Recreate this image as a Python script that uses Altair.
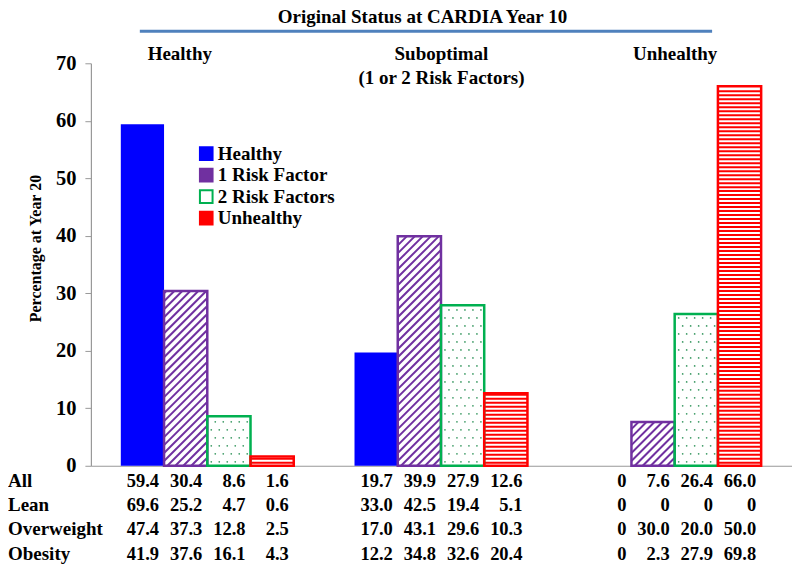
import altair as alt
import pandas as pd
import numpy as np

# ---------------- data ----------------
groups = ["Healthy", "Suboptimal", "Unhealthy"]
group_titles = ["Healthy", "Suboptimal\n(1 or 2 Risk Factors)", "Unhealthy"]
series = ["Healthy", "1 Risk Factor", "2 Risk Factors", "Unhealthy"]
row_names = ["All", "Lean", "Overweight", "Obesity"]

all_vals = [59.4, 30.4, 8.6, 1.6, 19.7, 39.9, 27.9, 12.6, 0, 7.6, 26.4, 66.0]
lean_vals = [69.6, 25.2, 4.7, 0.6, 33.0, 42.5, 19.4, 5.1, 0, 0, 0, 0]
overweight_vals = [47.4, 37.3, 12.8, 2.5, 17.0, 43.1, 29.6, 10.3, 0, 30.0, 20.0, 50.0]
obesity_vals = [41.9, 37.6, 16.1, 4.3, 12.2, 34.8, 32.6, 20.4, 0, 2.3, 27.9, 69.8]
table_rows = [all_vals, lean_vals, overweight_vals, obesity_vals]
y_ticks = [0, 10, 20, 30, 40, 50, 60, 70]

# ---------------- style / layout ----------------
W, H = 702, 403
PX = W / 3.0
PY = H / 70.0
GROUP_OFF = 0.128
BAR_W = 0.185
FONT = "Liberation Serif"
BLUE, PURPLE, GREEN, RED = "#0000ff", "#7030a0", "#00b050", "#ff0000"
fills = [BLUE, "#ffffff", "#ffffff", "#ffffff"]
strokes = [BLUE, PURPLE, GREEN, RED]
legend_fills = [BLUE, PURPLE, "#ffffff", RED]

xscale = alt.Scale(domain=[0, 3], nice=False, zero=False)
yscale = alt.Scale(domain=[0, 70], nice=False)
xaxis = alt.Axis(labels=False, ticks=False, title=None, grid=False,
                 domainColor="#999999", domainWidth=1.2)
yaxis = alt.Axis(values=y_ticks, grid=False, title="Percentage at Year 20",
                 labelFont=FONT, labelFontWeight="bold", labelFontSize=20.5,
                 labelColor="black", tickColor="#999999", tickSize=6,
                 labelPadding=9, domainColor="#999999", domainWidth=1.2,
                 titleFont=FONT, titleFontWeight="bold", titleFontSize=16,
                 titleColor="black", titleX=-47, titleY=185)


def X(f="x"):
    return alt.X(f + ":Q", scale=xscale, axis=xaxis)


def Y(f="y"):
    return alt.Y(f + ":Q", scale=yscale, axis=yaxis)


# bar table
bar_rows = []
for gi, g in enumerate(groups):
    for si, s in enumerate(series):
        x0 = gi + GROUP_OFF + si * BAR_W
        bar_rows.append(dict(group=g, series=s, si=si, x=x0, x2=x0 + BAR_W,
                             y=0.0, y2=all_vals[gi * 4 + si]))
bars = pd.DataFrame(bar_rows)

layers = []
# fills
for si, s in enumerate(series):
    d = bars[(bars.si == si) & (bars.y2 > 0)]
    layers.append(alt.Chart(d).mark_rect(fill=fills[si], strokeWidth=0)
                  .encode(x=X(), x2="x2:Q", y=Y(), y2="y2:Q"))

# patterns
hatch, dots, stripes = [], [], []
for _, b in bars.iterrows():
    wpx = (b.x2 - b.x) * PX
    hpx = b.y2 * PY
    if hpx <= 0:
        continue
    if b.si == 1:  # diagonal hatch
        for c in np.arange(-wpx, hpx, 8.0):
            xa, xb = max(0.0, -c), min(wpx, hpx - c)
            if xb > xa:
                hatch.append(dict(x=b.x + xa / PX, y=(xa + c) / PY,
                                  x2=b.x + xb / PX, y2=(xb + c) / PY))
    elif b.si == 2:  # dots
        for ri, ypx in enumerate(np.arange(4.0, hpx - 2, 8.0)):
            start = 4.0 if ri % 2 == 0 else 8.0
            for xpx in np.arange(start, wpx - 2, 8.0):
                dots.append(dict(x=b.x + xpx / PX, y=ypx / PY))
    elif b.si == 3:  # horizontal stripes
        for ypx in np.arange(3.0, hpx - 1, 4.0):
            stripes.append(dict(x=b.x, x2=b.x2, y=ypx / PY))

layers.append(alt.Chart(pd.DataFrame(hatch)).mark_rule(color=PURPLE, strokeWidth=2)
              .encode(x=X(), y=Y(), x2="x2:Q", y2="y2:Q"))
layers.append(alt.Chart(pd.DataFrame(dots)).mark_circle(color="#3c9a64", size=3, opacity=1)
              .encode(x=X(), y=Y()))
layers.append(alt.Chart(pd.DataFrame(stripes)).mark_rule(color=RED, strokeWidth=2)
              .encode(x=X(), x2="x2:Q", y=Y()))

# outlines
for si, s in enumerate(series):
    if si == 0:
        continue
    d = bars[(bars.si == si) & (bars.y2 > 0)]
    layers.append(alt.Chart(d).mark_rect(fillOpacity=0, stroke=strokes[si], strokeWidth=2.5)
                  .encode(x=X(), x2="x2:Q", y=Y(), y2="y2:Q"))

# legend carrier (clipped, invisible)
leg_df = pd.DataFrame(dict(series=series, x=[0.1] * 4, y=[-10.0] * 4))
leg = alt.Legend(title=None, orient="none", legendX=106, legendY=81,
                 labelFont=FONT, labelFontWeight="bold", labelFontSize=19,
                 labelColor="black", symbolSize=160, symbolType="square",
                 symbolStrokeWidth=2, rowPadding=0.5, labelOffset=2, padding=0)
layers.append(alt.Chart(leg_df).mark_square(clip=True, size=160, strokeWidth=2, opacity=1)
              .encode(x=X(), y=Y(),
                      fill=alt.Fill("series:N", scale=alt.Scale(domain=series, range=legend_fills), legend=leg),
                      stroke=alt.Stroke("series:N", scale=alt.Scale(domain=series, range=strokes), legend=leg)))

# table
ROW_Y0, ROW_STEP = 418, 24.4
for ri, (name, vals) in enumerate(zip(row_names, table_rows)):
    d = bars[["x", "x2"]].copy()
    d["label"] = ["0" if v == 0 else f"{v:.1f}" for v in vals]
    ypos = ROW_Y0 + ri * ROW_STEP
    layers.append(alt.Chart(d).mark_text(align="right", baseline="middle", dx=-5,
                                         font=FONT, fontWeight="bold", fontSize=18.5, color="black")
                  .encode(x=X("x2"), y=alt.value(ypos), text="label:N"))
    layers.append(alt.Chart(pd.DataFrame(dict(label=[name]))).mark_text(
        align="left", baseline="middle", font=FONT, fontWeight="bold", fontSize=19, color="black")
        .encode(x=alt.value(-83), y=alt.value(ypos), text="label:N"))

# group titles
gdf = pd.DataFrame(dict(label=group_titles, x=[i + 0.5 for i in range(3)]))
layers.append(alt.Chart(gdf.iloc[1:]).mark_text(align="center", baseline="alphabetic", lineBreak="\n",
                                              lineHeight=24, font=FONT, fontWeight="bold",
                                              fontSize=19, color="black")
              .encode(x=X(), y=alt.value(-3), text="label:N"))
layers.append(alt.Chart(gdf.iloc[:1]).mark_text(align="center", baseline="alphabetic", dx=-28,
                                              font=FONT, fontWeight="bold",
                                              fontSize=19, color="black")
              .encode(x=X(), y=alt.value(-3), text="label:N"))

# top header
layers.append(alt.Chart(pd.DataFrame(dict(label=["Original Status at CARDIA Year 10"]))).mark_text(
    align="center", baseline="middle", font=FONT, fontWeight="bold", fontSize=19, color="black")
    .encode(x=alt.value(332), y=alt.value(-46), text="label:N"))
layers.append(alt.Chart(pd.DataFrame(dict(a=[0]))).mark_rule(color="#4f81bd", strokeWidth=3)
              .encode(x=alt.value(49), x2=alt.value(622), y=alt.value(-32)))

chart = alt.layer(*layers).properties(
    width=W, height=H,
    autosize=alt.AutoSizeParams(type="none"),
    padding={"left": 83, "top": 55, "right": 0, "bottom": 100},
    background="white",
).configure_view(stroke=None)

chart.save("out.html", embed_options={"renderer": "svg", "actions": False})
